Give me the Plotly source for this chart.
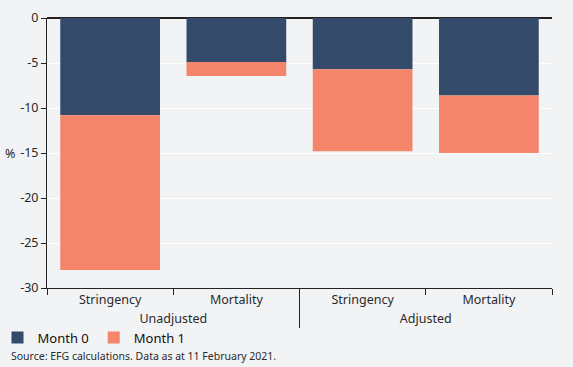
import plotly.graph_objects as go

groups = ["Unadjusted", "Unadjusted", "Adjusted", "Adjusted"]
measures = ["Stringency", "Mortality", "Stringency", "Mortality"]
month0 = [-10.8, -4.9, -5.7, -8.6]
month1 = [-17.2, -1.55, -9.1, -6.4]
yticks = [0, -5, -10, -15, -20, -25, -30]
yticklabels = ["0", "-5", "-10", "-15", "-20", "-25", "-30"]

navy = "#334a6b"
salmon = "#f4856a"
bg = "#f2f3f5"
font = "Noto Sans"
txt = "#2a2a2a"

fig = go.Figure()
fig.add_trace(go.Bar(x=[groups, measures], y=month0, name="Month 0",
                     marker=dict(color=navy, line=dict(width=0))))
fig.add_trace(go.Bar(x=[groups, measures], y=month1, name="Month 1",
                     marker=dict(color=salmon, line=dict(width=0))))

fig.update_layout(
    barmode="relative",
    bargap=0.21,
    width=573, height=367,
    paper_bgcolor=bg, plot_bgcolor=bg,
    margin=dict(l=47, r=21, t=18, b=79, autoexpand=False),
    font=dict(family=font, size=12, color=txt),
    showlegend=True,
    legend=dict(orientation="h", x=-0.098, y=-0.128, xanchor="left", yanchor="top",
                font=dict(size=13, color="#111111"), traceorder="normal",
                itemwidth=30, bgcolor="rgba(0,0,0,0)"),
)
fig.update_xaxes(
    type="multicategory", automargin=False,
    showline=True, linecolor="#222222", linewidth=1,
    ticks="outside", ticklen=6, tickcolor="#222222",
    showdividers=False,
    tickfont=dict(size=12.5, color=txt),
    showgrid=False,
)
fig.update_yaxes(
    range=[-30, 0], tickvals=yticks, ticktext=yticklabels, automargin=False,
    showline=True, linecolor="#222222", linewidth=1,
    ticks="outside", ticklen=5, tickcolor="#222222",
    showgrid=True, gridcolor="#ffffff", gridwidth=1,
    zeroline=True, zerolinecolor="#222222", zerolinewidth=1.5,
    tickfont=dict(size=12.5, color=txt),
)
# divider between the two groups
fig.add_shape(type="line", xref="paper", yref="paper", x0=0.5, x1=0.5,
              y0=0, y1=-0.148, line=dict(color="#222222", width=1))
fig.add_annotation(text="%", xref="paper", yref="y", x=-0.06, y=-15,
                   xanchor="right", yanchor="middle", showarrow=False,
                   font=dict(size=12.5, color=txt))
fig.add_annotation(text="Source: EFG calculations. Data as at 11 February 2021.",
                   xref="paper", yref="paper", x=-0.075, y=-0.218,
                   xanchor="left", yanchor="top", showarrow=False,
                   font=dict(size=10.5, color=txt))

fig.write_html("out.html", config={"displayModeBar": False},
               post_script="document.body.style.margin='0';document.body.style.overflow='hidden';")
